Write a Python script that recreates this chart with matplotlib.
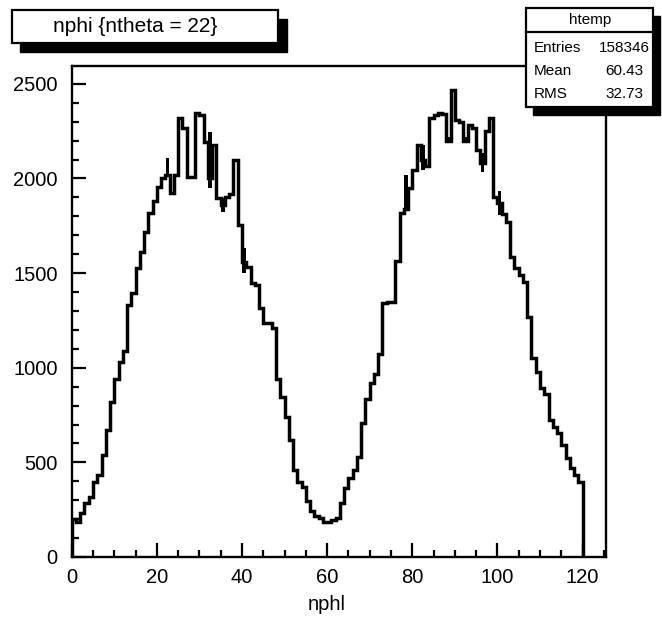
import numpy as np
import matplotlib
matplotlib.use("Agg")
import matplotlib.pyplot as plt
from matplotlib.patches import Rectangle

# Contenido de cada bin (nphi de 0 a 120, ancho 1)
conteos = [
    200, 185, 232, 285, 317, 396, 433, 539, 671, 819,
    940, 1030, 1088, 1331, 1395, 1527, 1611, 1717, 1817, 1880,
    1956, 2002, 2020, 1925, 2018, 2320, 2264, 2009, 2009, 2344,
    2335, 2190, 2000, 2176, 1895, 1860, 1900, 1920, 2097, 1754,
    1560, 1534, 1447, 1437, 1315, 1236, 1236, 1210, 940, 845,
    740, 618, 460, 396, 370, 295, 243, 215, 205, 185,
    185, 195, 204, 285, 364, 415, 460, 528, 708, 835,
    919, 965, 1070, 1340, 1345, 1349, 1565, 1820, 1840, 1950,
    2044, 2176, 2100, 2065, 2320, 2335, 2345, 2340, 2200, 2467,
    2308, 2300, 2200, 2282, 2264, 2150, 2080, 2250, 2320, 1900,
    1870, 1810, 1771, 1586, 1527, 1490, 1454, 1270, 1051, 979,
    891, 860, 724, 688, 653, 592, 521, 470, 433, 398,
]
bordes = np.arange(len(conteos) + 1)

# Bins donde la linea oscila (zonas negras gruesas): bin, minimo, maximo
bins_gruesos = [22, 32, 35, 40, 78, 82, 88, 92, 96, 100]
minimos_gruesos = [2020, 1948, 1824, 1500, 1840, 2044, 2185, 2185, 2035, 1807]
maximos_gruesos = [2110, 2247, 1895, 1632, 2018, 2176, 2220, 2220, 2132, 1932]

titulo = "nphi {ntheta = 22}"
nombre_hist = "htemp"
etiquetas_stats = ["Entries", "Mean", "RMS"]
valores_stats = ["158346", "60.43", "32.73"]

W, H = 662, 618
plt.rcParams['font.family'] = ['Liberation Sans', 'DejaVu Sans']

fig = plt.figure(figsize=(W / 100, H / 100), dpi=100)
fig.patch.set_facecolor("white")


# Pasar pixeles de la imagen a fracciones de la figura
def fx(px):
    return px / W


def fy(py):
    return 1 - py / H


ax = fig.add_axes([fx(71.7), fy(557), (606 - 71.7) / W, (557 - 66) / H])

ax.stairs(conteos, bordes, baseline=0, color="black", linewidth=2.5)
x_g = [b + 0.5 for b in bins_gruesos]
alto_g = [hi - lo for lo, hi in zip(minimos_gruesos, maximos_gruesos)]
ax.bar(x_g, alto_g, bottom=minimos_gruesos, width=0.85, color="black")

ax.set_xlim(0, 125.5)
ax.set_ylim(0, 2594)
ax.set_xticks(np.arange(0, 121, 20))
ax.set_xticks(np.arange(0, 126, 5), minor=True)
ax.set_yticks(np.arange(0, 2501, 500))
ax.set_yticks(np.arange(0, 2594, 100), minor=True)
ax.tick_params(which="both", direction="in", top=False, right=False, width=1.6, labelsize=14.5)
ax.tick_params(which="major", length=10)
ax.tick_params(which="minor", length=5)
ax.tick_params(axis="x", pad=8)
ax.tick_params(axis="y", pad=10)
for s in ax.spines.values():
    s.set_linewidth(1.7)

ax.set_xlabel("nphl", fontsize=14.5)
ax.xaxis.set_label_coords(0.478, -0.078)

# Caja del titulo con sombra
fig.patches.append(Rectangle((fx(20), fy(52)), (287 - 20) / W, (52 - 19) / H,
                             transform=fig.transFigure, facecolor="black", edgecolor="black", zorder=5))
fig.patches.append(Rectangle((fx(12), fy(43)), (278 - 12) / W, (43 - 10) / H,
                             transform=fig.transFigure, facecolor="white", edgecolor="black",
                             linewidth=1.6, zorder=6))
fig.text(fx(135), fy(27), titulo, ha="center", va="center", fontsize=15, zorder=7)

# Caja de estadisticas con sombra
fig.patches.append(Rectangle((fx(533), fy(115)), (660 - 533) / W, (115 - 16) / H,
                             transform=fig.transFigure, facecolor="black", edgecolor="black", zorder=5))
fig.patches.append(Rectangle((fx(526), fy(107)), (653 - 526) / W, (107 - 8) / H,
                             transform=fig.transFigure, facecolor="white", edgecolor="black",
                             linewidth=1.6, zorder=6))
fig.lines.append(plt.Line2D([fx(526), fx(653)], [fy(32), fy(32)], transform=fig.transFigure,
                            color="black", linewidth=1.6, zorder=7))
fig.text(fx(590), fy(20), nombre_hist, ha="center", va="center", fontsize=11, zorder=7)
for i in range(len(etiquetas_stats)):
    y = 48 + 23 * i
    fig.text(fx(534), fy(y), etiquetas_stats[i], ha="left", va="center", fontsize=11, zorder=7)
    fig.text(fx(624), fy(y), valores_stats[i], ha="center", va="center", fontsize=11, zorder=7)

fig.savefig("out.png", dpi=100)
